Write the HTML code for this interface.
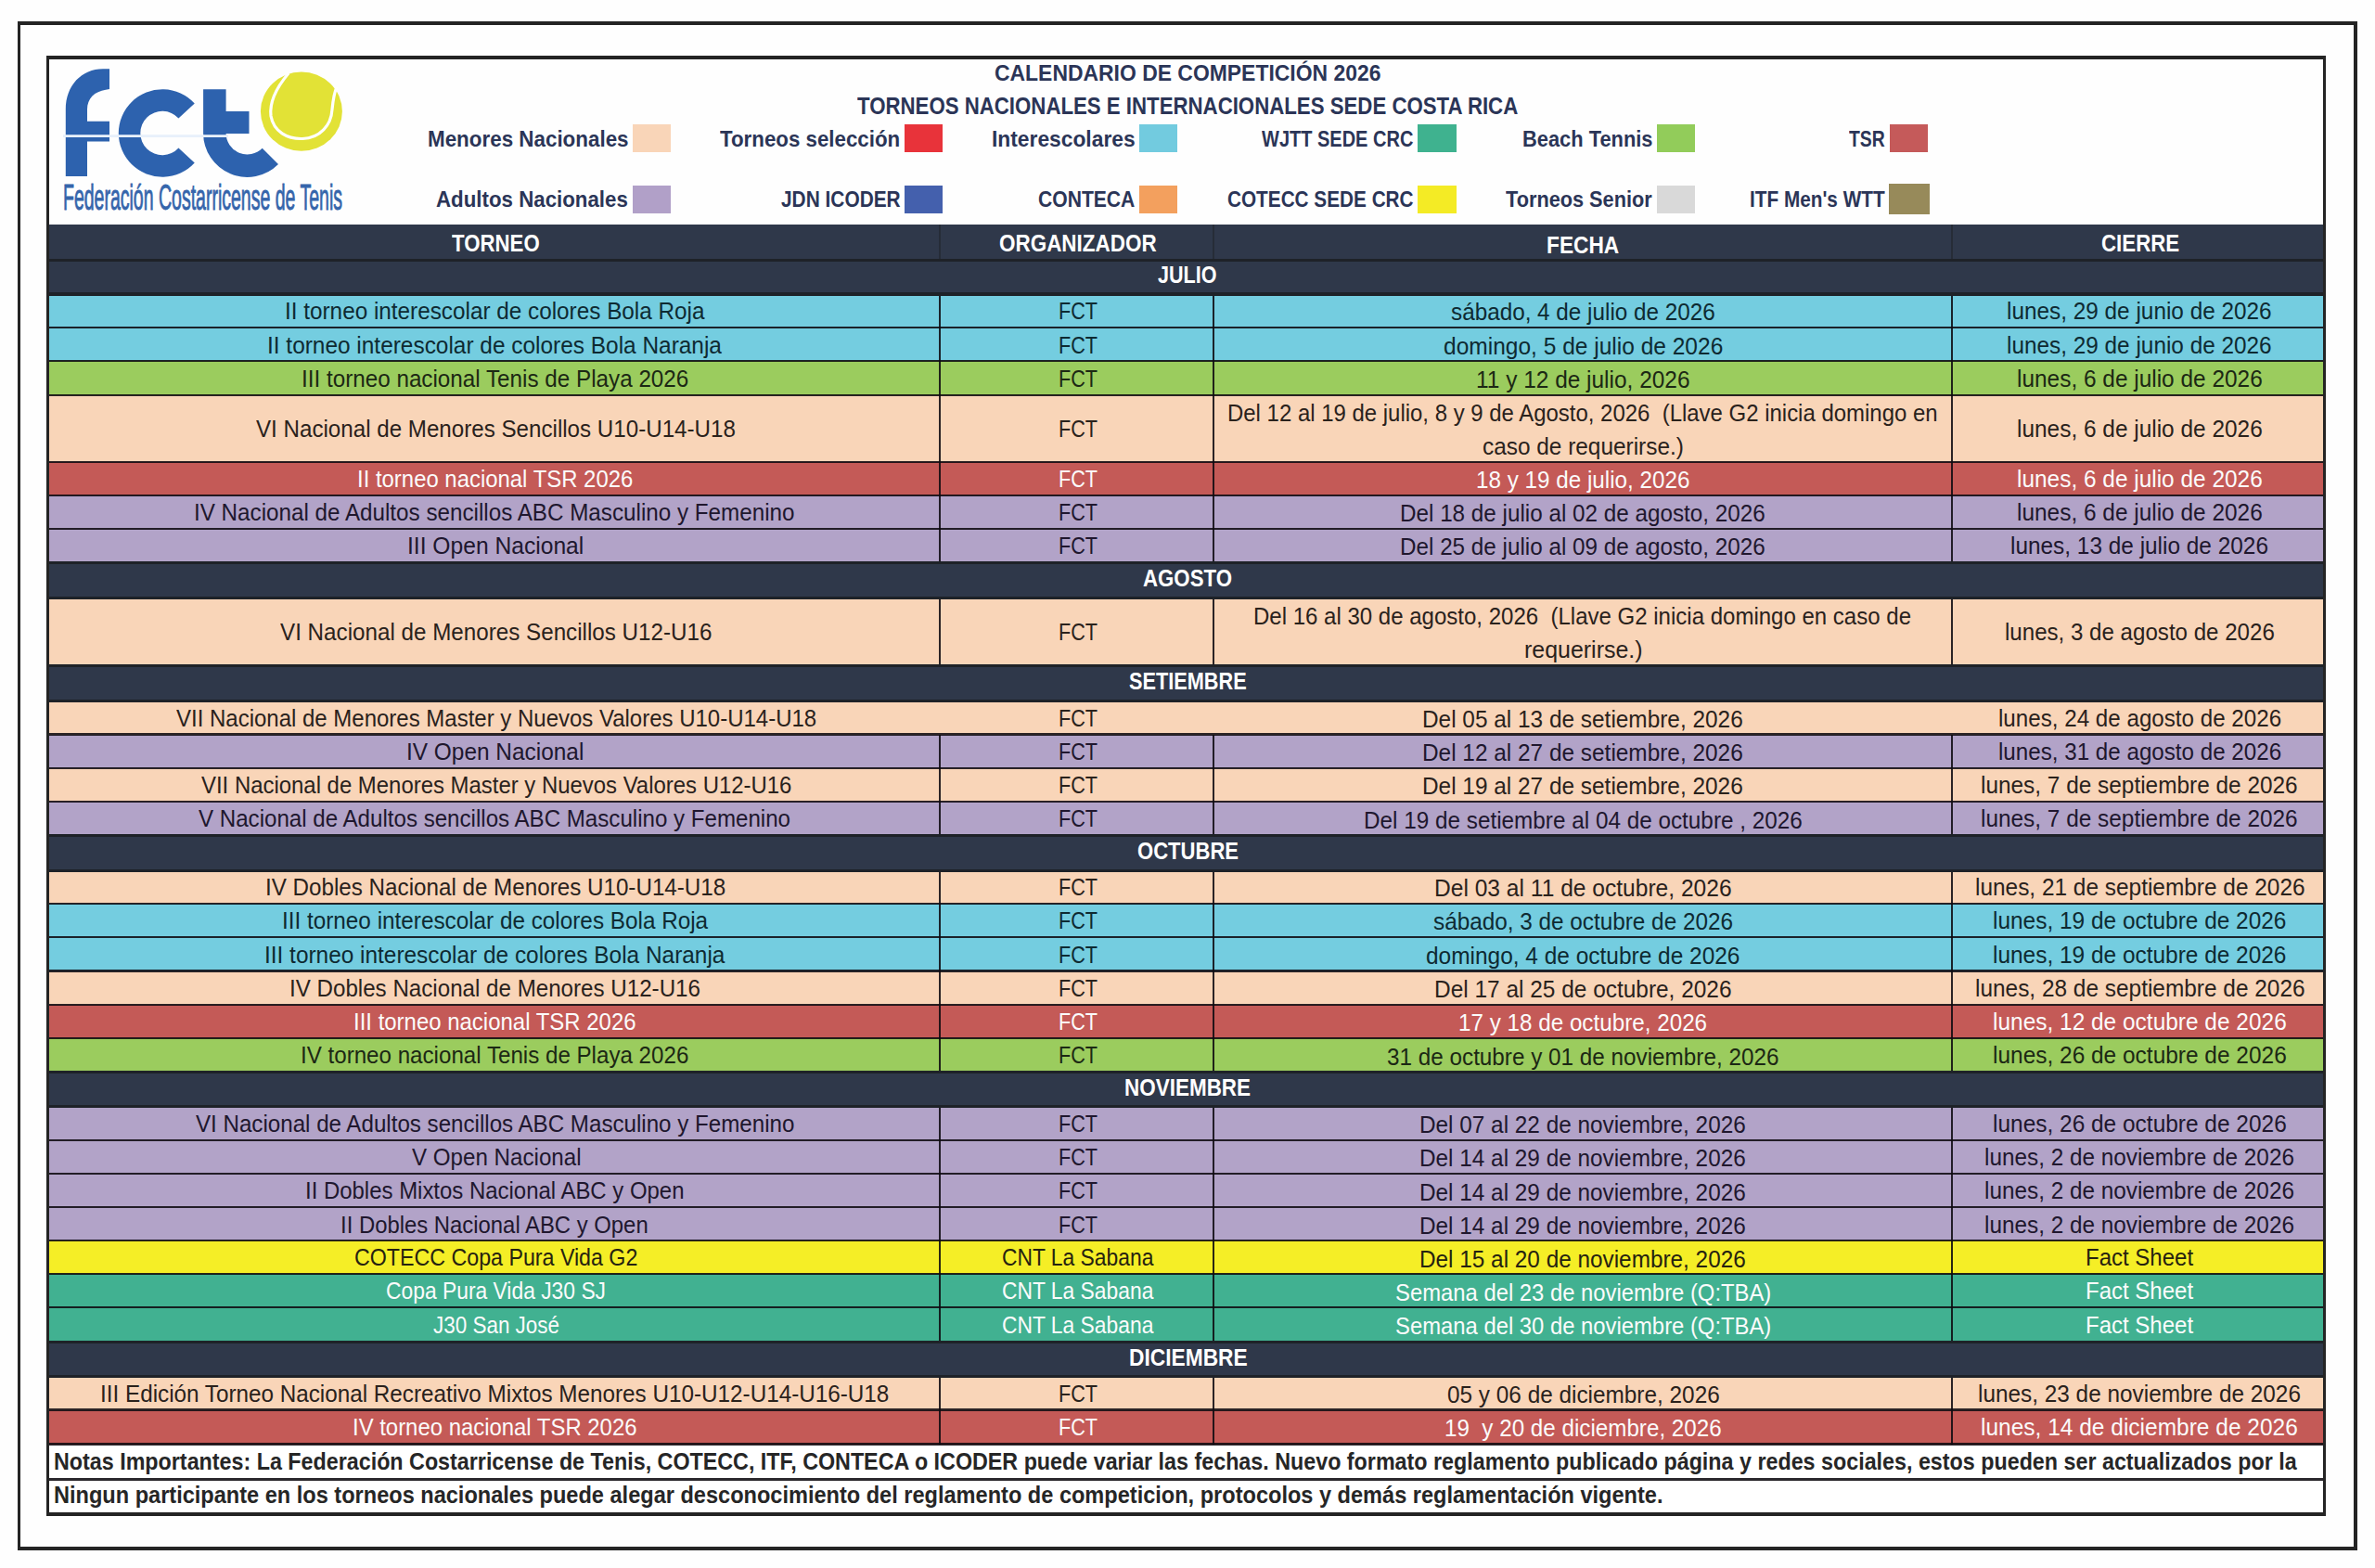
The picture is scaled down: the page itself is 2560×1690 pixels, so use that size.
<!DOCTYPE html>
<html><head><meta charset="utf-8"><style>
html,body{margin:0;padding:0;width:2560px;height:1690px;overflow:hidden;background:#fefefe}
body{position:relative;font-family:'Liberation Sans', sans-serif}
div{white-space:pre;transform-origin:0 0}
</style></head><body>
<div style="position:absolute;left:0px;top:0px;width:2560px;height:1690px;background:#fefefe;"></div>
<div style="position:absolute;left:19px;top:23px;width:2521px;height:3.5px;background:#242424;"></div>
<div style="position:absolute;left:19px;top:1667px;width:2521px;height:3.5px;background:#242424;"></div>
<div style="position:absolute;left:19px;top:23px;width:3px;height:1647.5px;background:#242424;"></div>
<div style="position:absolute;left:2537px;top:23px;width:3.5px;height:1647.5px;background:#242424;"></div>
<div style="position:absolute;left:50px;top:242px;width:2457px;height:38.5px;background:#2f384a;"></div>
<div style="position:absolute;left:50px;top:280.5px;width:2457px;height:36.10000000000002px;background:#2f384a;"></div>
<div style="position:absolute;left:50px;top:316.6px;width:2457px;height:36.799999999999955px;background:#74cde0;"></div>
<div style="position:absolute;left:50px;top:353.4px;width:2457px;height:35.900000000000034px;background:#74cde0;"></div>
<div style="position:absolute;left:50px;top:389.3px;width:2457px;height:36.30000000000001px;background:#9bcc5e;"></div>
<div style="position:absolute;left:50px;top:425.6px;width:2457px;height:72.39999999999998px;background:#f9d5b8;"></div>
<div style="position:absolute;left:50px;top:498px;width:2457px;height:36px;background:#c45a57;"></div>
<div style="position:absolute;left:50px;top:534px;width:2457px;height:36px;background:#b2a3c8;"></div>
<div style="position:absolute;left:50px;top:570px;width:2457px;height:36px;background:#b2a3c8;"></div>
<div style="position:absolute;left:50px;top:606px;width:2457px;height:38.5px;background:#2f384a;"></div>
<div style="position:absolute;left:50px;top:644.5px;width:2457px;height:72.5px;background:#f9d5b8;"></div>
<div style="position:absolute;left:50px;top:717px;width:2457px;height:38px;background:#2f384a;"></div>
<div style="position:absolute;left:50px;top:755px;width:2457px;height:36.5px;background:#f9d5b8;"></div>
<div style="position:absolute;left:50px;top:791.5px;width:2457px;height:36.10000000000002px;background:#b2a3c8;"></div>
<div style="position:absolute;left:50px;top:827.6px;width:2457px;height:36.39999999999998px;background:#f9d5b8;"></div>
<div style="position:absolute;left:50px;top:864px;width:2457px;height:36.299999999999955px;background:#b2a3c8;"></div>
<div style="position:absolute;left:50px;top:900.3px;width:2457px;height:37.700000000000045px;background:#2f384a;"></div>
<div style="position:absolute;left:50px;top:938px;width:2457px;height:36px;background:#f9d5b8;"></div>
<div style="position:absolute;left:50px;top:974px;width:2457px;height:36px;background:#74cde0;"></div>
<div style="position:absolute;left:50px;top:1010px;width:2457px;height:36.5px;background:#74cde0;"></div>
<div style="position:absolute;left:50px;top:1046.5px;width:2457px;height:36.200000000000045px;background:#f9d5b8;"></div>
<div style="position:absolute;left:50px;top:1082.7px;width:2457px;height:36.09999999999991px;background:#c45a57;"></div>
<div style="position:absolute;left:50px;top:1118.8px;width:2457px;height:36.700000000000045px;background:#9bcc5e;"></div>
<div style="position:absolute;left:50px;top:1155.5px;width:2457px;height:36.799999999999955px;background:#2f384a;"></div>
<div style="position:absolute;left:50px;top:1192.3px;width:2457px;height:36.299999999999955px;background:#b2a3c8;"></div>
<div style="position:absolute;left:50px;top:1228.6px;width:2457px;height:36.40000000000009px;background:#b2a3c8;"></div>
<div style="position:absolute;left:50px;top:1265px;width:2457px;height:36.40000000000009px;background:#b2a3c8;"></div>
<div style="position:absolute;left:50px;top:1301.4px;width:2457px;height:35.899999999999864px;background:#b2a3c8;"></div>
<div style="position:absolute;left:50px;top:1337.3px;width:2457px;height:35.700000000000045px;background:#f5ee26;"></div>
<div style="position:absolute;left:50px;top:1373px;width:2457px;height:36.299999999999955px;background:#41b191;"></div>
<div style="position:absolute;left:50px;top:1409.3px;width:2457px;height:36.700000000000045px;background:#41b191;"></div>
<div style="position:absolute;left:50px;top:1446px;width:2457px;height:37px;background:#2f384a;"></div>
<div style="position:absolute;left:50px;top:1483px;width:2457px;height:36.5px;background:#f9d5b8;"></div>
<div style="position:absolute;left:50px;top:1519.5px;width:2457px;height:37.0px;background:#c45a57;"></div>
<div style="position:absolute;left:50px;top:1556.5px;width:2457px;height:38.0px;background:#ffffff;"></div>
<div style="position:absolute;left:50px;top:1594.5px;width:2457px;height:37.0px;background:#ffffff;"></div>
<div style="position:absolute;left:1012px;top:242px;width:2.2000000000000455px;height:38.5px;background:#262c37;"></div>
<div style="position:absolute;left:1307px;top:242px;width:2.2000000000000455px;height:38.5px;background:#262c37;"></div>
<div style="position:absolute;left:2102.5px;top:242px;width:2.199999999999818px;height:38.5px;background:#262c37;"></div>
<div style="position:absolute;left:1012px;top:316.6px;width:2.2000000000000455px;height:36.799999999999955px;background:rgba(14,10,16,0.88);"></div>
<div style="position:absolute;left:1307px;top:316.6px;width:2.2000000000000455px;height:36.799999999999955px;background:rgba(14,10,16,0.88);"></div>
<div style="position:absolute;left:2102.5px;top:316.6px;width:2.199999999999818px;height:36.799999999999955px;background:rgba(14,10,16,0.88);"></div>
<div style="position:absolute;left:1012px;top:353.4px;width:2.2000000000000455px;height:35.900000000000034px;background:rgba(14,10,16,0.88);"></div>
<div style="position:absolute;left:1307px;top:353.4px;width:2.2000000000000455px;height:35.900000000000034px;background:rgba(14,10,16,0.88);"></div>
<div style="position:absolute;left:2102.5px;top:353.4px;width:2.199999999999818px;height:35.900000000000034px;background:rgba(14,10,16,0.88);"></div>
<div style="position:absolute;left:1012px;top:389.3px;width:2.2000000000000455px;height:36.30000000000001px;background:rgba(14,10,16,0.88);"></div>
<div style="position:absolute;left:1307px;top:389.3px;width:2.2000000000000455px;height:36.30000000000001px;background:rgba(14,10,16,0.88);"></div>
<div style="position:absolute;left:2102.5px;top:389.3px;width:2.199999999999818px;height:36.30000000000001px;background:rgba(14,10,16,0.88);"></div>
<div style="position:absolute;left:1012px;top:425.6px;width:2.2000000000000455px;height:72.39999999999998px;background:rgba(14,10,16,0.88);"></div>
<div style="position:absolute;left:1307px;top:425.6px;width:2.2000000000000455px;height:72.39999999999998px;background:rgba(14,10,16,0.88);"></div>
<div style="position:absolute;left:2102.5px;top:425.6px;width:2.199999999999818px;height:72.39999999999998px;background:rgba(14,10,16,0.88);"></div>
<div style="position:absolute;left:1012px;top:498px;width:2.2000000000000455px;height:36px;background:rgba(14,10,16,0.88);"></div>
<div style="position:absolute;left:1307px;top:498px;width:2.2000000000000455px;height:36px;background:rgba(14,10,16,0.88);"></div>
<div style="position:absolute;left:2102.5px;top:498px;width:2.199999999999818px;height:36px;background:rgba(14,10,16,0.88);"></div>
<div style="position:absolute;left:1012px;top:534px;width:2.2000000000000455px;height:36px;background:rgba(14,10,16,0.88);"></div>
<div style="position:absolute;left:1307px;top:534px;width:2.2000000000000455px;height:36px;background:rgba(14,10,16,0.88);"></div>
<div style="position:absolute;left:2102.5px;top:534px;width:2.199999999999818px;height:36px;background:rgba(14,10,16,0.88);"></div>
<div style="position:absolute;left:1012px;top:570px;width:2.2000000000000455px;height:36px;background:rgba(14,10,16,0.88);"></div>
<div style="position:absolute;left:1307px;top:570px;width:2.2000000000000455px;height:36px;background:rgba(14,10,16,0.88);"></div>
<div style="position:absolute;left:2102.5px;top:570px;width:2.199999999999818px;height:36px;background:rgba(14,10,16,0.88);"></div>
<div style="position:absolute;left:1012px;top:644.5px;width:2.2000000000000455px;height:72.5px;background:rgba(14,10,16,0.88);"></div>
<div style="position:absolute;left:1307px;top:644.5px;width:2.2000000000000455px;height:72.5px;background:rgba(14,10,16,0.88);"></div>
<div style="position:absolute;left:2102.5px;top:644.5px;width:2.199999999999818px;height:72.5px;background:rgba(14,10,16,0.88);"></div>
<div style="position:absolute;left:1012px;top:791.5px;width:2.2000000000000455px;height:36.10000000000002px;background:rgba(14,10,16,0.88);"></div>
<div style="position:absolute;left:1307px;top:791.5px;width:2.2000000000000455px;height:36.10000000000002px;background:rgba(14,10,16,0.88);"></div>
<div style="position:absolute;left:2102.5px;top:791.5px;width:2.199999999999818px;height:36.10000000000002px;background:rgba(14,10,16,0.88);"></div>
<div style="position:absolute;left:1012px;top:827.6px;width:2.2000000000000455px;height:36.39999999999998px;background:rgba(14,10,16,0.88);"></div>
<div style="position:absolute;left:1307px;top:827.6px;width:2.2000000000000455px;height:36.39999999999998px;background:rgba(14,10,16,0.88);"></div>
<div style="position:absolute;left:2102.5px;top:827.6px;width:2.199999999999818px;height:36.39999999999998px;background:rgba(14,10,16,0.88);"></div>
<div style="position:absolute;left:1012px;top:864px;width:2.2000000000000455px;height:36.299999999999955px;background:rgba(14,10,16,0.88);"></div>
<div style="position:absolute;left:1307px;top:864px;width:2.2000000000000455px;height:36.299999999999955px;background:rgba(14,10,16,0.88);"></div>
<div style="position:absolute;left:2102.5px;top:864px;width:2.199999999999818px;height:36.299999999999955px;background:rgba(14,10,16,0.88);"></div>
<div style="position:absolute;left:1012px;top:938px;width:2.2000000000000455px;height:36px;background:rgba(14,10,16,0.88);"></div>
<div style="position:absolute;left:1307px;top:938px;width:2.2000000000000455px;height:36px;background:rgba(14,10,16,0.88);"></div>
<div style="position:absolute;left:2102.5px;top:938px;width:2.199999999999818px;height:36px;background:rgba(14,10,16,0.88);"></div>
<div style="position:absolute;left:1012px;top:974px;width:2.2000000000000455px;height:36px;background:rgba(14,10,16,0.88);"></div>
<div style="position:absolute;left:1307px;top:974px;width:2.2000000000000455px;height:36px;background:rgba(14,10,16,0.88);"></div>
<div style="position:absolute;left:2102.5px;top:974px;width:2.199999999999818px;height:36px;background:rgba(14,10,16,0.88);"></div>
<div style="position:absolute;left:1012px;top:1010px;width:2.2000000000000455px;height:36.5px;background:rgba(14,10,16,0.88);"></div>
<div style="position:absolute;left:1307px;top:1010px;width:2.2000000000000455px;height:36.5px;background:rgba(14,10,16,0.88);"></div>
<div style="position:absolute;left:2102.5px;top:1010px;width:2.199999999999818px;height:36.5px;background:rgba(14,10,16,0.88);"></div>
<div style="position:absolute;left:1012px;top:1046.5px;width:2.2000000000000455px;height:36.200000000000045px;background:rgba(14,10,16,0.88);"></div>
<div style="position:absolute;left:1307px;top:1046.5px;width:2.2000000000000455px;height:36.200000000000045px;background:rgba(14,10,16,0.88);"></div>
<div style="position:absolute;left:2102.5px;top:1046.5px;width:2.199999999999818px;height:36.200000000000045px;background:rgba(14,10,16,0.88);"></div>
<div style="position:absolute;left:1012px;top:1082.7px;width:2.2000000000000455px;height:36.09999999999991px;background:rgba(14,10,16,0.88);"></div>
<div style="position:absolute;left:1307px;top:1082.7px;width:2.2000000000000455px;height:36.09999999999991px;background:rgba(14,10,16,0.88);"></div>
<div style="position:absolute;left:2102.5px;top:1082.7px;width:2.199999999999818px;height:36.09999999999991px;background:rgba(14,10,16,0.88);"></div>
<div style="position:absolute;left:1012px;top:1118.8px;width:2.2000000000000455px;height:36.700000000000045px;background:rgba(14,10,16,0.88);"></div>
<div style="position:absolute;left:1307px;top:1118.8px;width:2.2000000000000455px;height:36.700000000000045px;background:rgba(14,10,16,0.88);"></div>
<div style="position:absolute;left:2102.5px;top:1118.8px;width:2.199999999999818px;height:36.700000000000045px;background:rgba(14,10,16,0.88);"></div>
<div style="position:absolute;left:1012px;top:1192.3px;width:2.2000000000000455px;height:36.299999999999955px;background:rgba(14,10,16,0.88);"></div>
<div style="position:absolute;left:1307px;top:1192.3px;width:2.2000000000000455px;height:36.299999999999955px;background:rgba(14,10,16,0.88);"></div>
<div style="position:absolute;left:2102.5px;top:1192.3px;width:2.199999999999818px;height:36.299999999999955px;background:rgba(14,10,16,0.88);"></div>
<div style="position:absolute;left:1012px;top:1228.6px;width:2.2000000000000455px;height:36.40000000000009px;background:rgba(14,10,16,0.88);"></div>
<div style="position:absolute;left:1307px;top:1228.6px;width:2.2000000000000455px;height:36.40000000000009px;background:rgba(14,10,16,0.88);"></div>
<div style="position:absolute;left:2102.5px;top:1228.6px;width:2.199999999999818px;height:36.40000000000009px;background:rgba(14,10,16,0.88);"></div>
<div style="position:absolute;left:1012px;top:1265px;width:2.2000000000000455px;height:36.40000000000009px;background:rgba(14,10,16,0.88);"></div>
<div style="position:absolute;left:1307px;top:1265px;width:2.2000000000000455px;height:36.40000000000009px;background:rgba(14,10,16,0.88);"></div>
<div style="position:absolute;left:2102.5px;top:1265px;width:2.199999999999818px;height:36.40000000000009px;background:rgba(14,10,16,0.88);"></div>
<div style="position:absolute;left:1012px;top:1301.4px;width:2.2000000000000455px;height:35.899999999999864px;background:rgba(14,10,16,0.88);"></div>
<div style="position:absolute;left:1307px;top:1301.4px;width:2.2000000000000455px;height:35.899999999999864px;background:rgba(14,10,16,0.88);"></div>
<div style="position:absolute;left:2102.5px;top:1301.4px;width:2.199999999999818px;height:35.899999999999864px;background:rgba(14,10,16,0.88);"></div>
<div style="position:absolute;left:1012px;top:1337.3px;width:2.2000000000000455px;height:35.700000000000045px;background:rgba(14,10,16,0.88);"></div>
<div style="position:absolute;left:1307px;top:1337.3px;width:2.2000000000000455px;height:35.700000000000045px;background:rgba(14,10,16,0.88);"></div>
<div style="position:absolute;left:2102.5px;top:1337.3px;width:2.199999999999818px;height:35.700000000000045px;background:rgba(14,10,16,0.88);"></div>
<div style="position:absolute;left:1012px;top:1373px;width:2.2000000000000455px;height:36.299999999999955px;background:rgba(14,10,16,0.88);"></div>
<div style="position:absolute;left:1307px;top:1373px;width:2.2000000000000455px;height:36.299999999999955px;background:rgba(14,10,16,0.88);"></div>
<div style="position:absolute;left:2102.5px;top:1373px;width:2.199999999999818px;height:36.299999999999955px;background:rgba(14,10,16,0.88);"></div>
<div style="position:absolute;left:1012px;top:1409.3px;width:2.2000000000000455px;height:36.700000000000045px;background:rgba(14,10,16,0.88);"></div>
<div style="position:absolute;left:1307px;top:1409.3px;width:2.2000000000000455px;height:36.700000000000045px;background:rgba(14,10,16,0.88);"></div>
<div style="position:absolute;left:2102.5px;top:1409.3px;width:2.199999999999818px;height:36.700000000000045px;background:rgba(14,10,16,0.88);"></div>
<div style="position:absolute;left:1012px;top:1483px;width:2.2000000000000455px;height:36.5px;background:rgba(14,10,16,0.88);"></div>
<div style="position:absolute;left:1307px;top:1483px;width:2.2000000000000455px;height:36.5px;background:rgba(14,10,16,0.88);"></div>
<div style="position:absolute;left:2102.5px;top:1483px;width:2.199999999999818px;height:36.5px;background:rgba(14,10,16,0.88);"></div>
<div style="position:absolute;left:1012px;top:1519.5px;width:2.2000000000000455px;height:37.0px;background:rgba(14,10,16,0.88);"></div>
<div style="position:absolute;left:1307px;top:1519.5px;width:2.2000000000000455px;height:37.0px;background:rgba(14,10,16,0.88);"></div>
<div style="position:absolute;left:2102.5px;top:1519.5px;width:2.199999999999818px;height:37.0px;background:rgba(14,10,16,0.88);"></div>
<div style="position:absolute;left:50px;top:279.0px;width:2457px;height:3.0px;background:#1e2228;"></div>
<div style="position:absolute;left:50px;top:314.6px;width:2457px;height:4.0px;background:#1e2228;"></div>
<div style="position:absolute;left:50px;top:352.29999999999995px;width:2457px;height:2.2000000000000455px;background:rgba(14,10,16,0.88);"></div>
<div style="position:absolute;left:50px;top:388.2px;width:2457px;height:2.2000000000000455px;background:rgba(14,10,16,0.88);"></div>
<div style="position:absolute;left:50px;top:424.5px;width:2457px;height:2.2000000000000455px;background:rgba(14,10,16,0.88);"></div>
<div style="position:absolute;left:50px;top:496.9px;width:2457px;height:2.2000000000000455px;background:rgba(14,10,16,0.88);"></div>
<div style="position:absolute;left:50px;top:532.9px;width:2457px;height:2.2000000000000455px;background:rgba(14,10,16,0.88);"></div>
<div style="position:absolute;left:50px;top:568.9px;width:2457px;height:2.2000000000000455px;background:rgba(14,10,16,0.88);"></div>
<div style="position:absolute;left:50px;top:604.5px;width:2457px;height:3.0px;background:#1e2228;"></div>
<div style="position:absolute;left:50px;top:643.0px;width:2457px;height:3.0px;background:#1e2228;"></div>
<div style="position:absolute;left:50px;top:715.5px;width:2457px;height:3.0px;background:#1e2228;"></div>
<div style="position:absolute;left:50px;top:753.5px;width:2457px;height:3.0px;background:#1e2228;"></div>
<div style="position:absolute;left:50px;top:790.4px;width:2457px;height:2.2000000000000455px;background:rgba(14,10,16,0.88);"></div>
<div style="position:absolute;left:50px;top:826.5px;width:2457px;height:2.2000000000000455px;background:rgba(14,10,16,0.88);"></div>
<div style="position:absolute;left:50px;top:862.9px;width:2457px;height:2.2000000000000455px;background:rgba(14,10,16,0.88);"></div>
<div style="position:absolute;left:50px;top:898.8px;width:2457px;height:3.0px;background:#1e2228;"></div>
<div style="position:absolute;left:50px;top:936.5px;width:2457px;height:3.0px;background:#1e2228;"></div>
<div style="position:absolute;left:50px;top:972.9px;width:2457px;height:2.2000000000000455px;background:rgba(14,10,16,0.88);"></div>
<div style="position:absolute;left:50px;top:1008.9px;width:2457px;height:2.2000000000000455px;background:rgba(14,10,16,0.88);"></div>
<div style="position:absolute;left:50px;top:1045.4px;width:2457px;height:2.199999999999818px;background:rgba(14,10,16,0.88);"></div>
<div style="position:absolute;left:50px;top:1081.6000000000001px;width:2457px;height:2.199999999999818px;background:rgba(14,10,16,0.88);"></div>
<div style="position:absolute;left:50px;top:1117.7px;width:2457px;height:2.199999999999818px;background:rgba(14,10,16,0.88);"></div>
<div style="position:absolute;left:50px;top:1154.0px;width:2457px;height:3.0px;background:#1e2228;"></div>
<div style="position:absolute;left:50px;top:1190.8px;width:2457px;height:3.0px;background:#1e2228;"></div>
<div style="position:absolute;left:50px;top:1227.5px;width:2457px;height:2.199999999999818px;background:rgba(14,10,16,0.88);"></div>
<div style="position:absolute;left:50px;top:1263.9px;width:2457px;height:2.199999999999818px;background:rgba(14,10,16,0.88);"></div>
<div style="position:absolute;left:50px;top:1300.3000000000002px;width:2457px;height:2.199999999999818px;background:rgba(14,10,16,0.88);"></div>
<div style="position:absolute;left:50px;top:1336.2px;width:2457px;height:2.199999999999818px;background:rgba(14,10,16,0.88);"></div>
<div style="position:absolute;left:50px;top:1371.9px;width:2457px;height:2.199999999999818px;background:rgba(14,10,16,0.88);"></div>
<div style="position:absolute;left:50px;top:1408.2px;width:2457px;height:2.199999999999818px;background:rgba(14,10,16,0.88);"></div>
<div style="position:absolute;left:50px;top:1444.5px;width:2457px;height:3.0px;background:#1e2228;"></div>
<div style="position:absolute;left:50px;top:1481.5px;width:2457px;height:3.0px;background:#1e2228;"></div>
<div style="position:absolute;left:50px;top:1518.4px;width:2457px;height:2.199999999999818px;background:rgba(14,10,16,0.88);"></div>
<div style="position:absolute;left:50px;top:1555.0px;width:2457px;height:3.0px;background:rgba(14,10,16,0.88);"></div>
<div style="position:absolute;left:50px;top:1593.0px;width:2457px;height:3.0px;background:rgba(14,10,16,0.88);"></div>
<div style="position:absolute;left:50px;top:60px;width:2457px;height:3.5px;background:#242424;"></div>
<div style="position:absolute;left:50px;top:1630px;width:2457px;height:3.5px;background:#242424;"></div>
<div style="position:absolute;left:50px;top:60px;width:3px;height:1573.5px;background:#242424;"></div>
<div style="position:absolute;left:2503.8px;top:60px;width:3.199999999999818px;height:1573.5px;background:#242424;"></div>
<div style="position:absolute;left:681.5px;top:134.4px;width:41.200000000000045px;height:29.900000000000006px;background:#f9d5b8;"></div>
<div style="position:absolute;left:975.3px;top:134.4px;width:40.700000000000045px;height:29.900000000000006px;background:#e8333a;"></div>
<div style="position:absolute;left:1228.4px;top:134.4px;width:40.59999999999991px;height:29.900000000000006px;background:#72cbdf;"></div>
<div style="position:absolute;left:1528px;top:134.4px;width:41.700000000000045px;height:29.900000000000006px;background:#3fb28f;"></div>
<div style="position:absolute;left:1785.7px;top:134.4px;width:41.299999999999955px;height:29.900000000000006px;background:#92cc5a;"></div>
<div style="position:absolute;left:2037px;top:134.4px;width:41.30000000000018px;height:29.900000000000006px;background:#c55a5a;"></div>
<div style="position:absolute;left:681.5px;top:199.5px;width:41.200000000000045px;height:30.0px;background:#b1a0c8;"></div>
<div style="position:absolute;left:975.3px;top:199.5px;width:40.700000000000045px;height:30.0px;background:#4460ad;"></div>
<div style="position:absolute;left:1228.4px;top:199.5px;width:40.59999999999991px;height:30.0px;background:#f3a05e;"></div>
<div style="position:absolute;left:1528px;top:199.5px;width:41.700000000000045px;height:30.0px;background:#f4eb25;"></div>
<div style="position:absolute;left:1785.7px;top:199.5px;width:41.299999999999955px;height:30.0px;background:#d9d9d9;"></div>
<div style="position:absolute;left:2035.6px;top:198px;width:44.80000000000018px;height:33.30000000000001px;background:#978a5a;"></div>
<svg style="position:absolute;left:0;top:0" width="400" height="240" viewBox="0 0 400 240">
<g fill="#2d62ae">
<path d="M70.8,190 L70.8,118 C70.8,92 88,74.3 111,74.3 L118,74.3 L118,96 L114,96.7 C102,98.5 94,106 94,118 L94,130.7 L118,130.7 L118,152.6 L94,152.6 L94,190 Z"/>
<path d="M209.75,111.55 A47.2,47.2 0 1 0 209.75,175.45 L192.45,159.54 A23.7,23.7 0 1 1 192.45,127.46 Z"/>
<path d="M219.1,96.3 L243.6,96.3 L243.6,119.9 L268.5,119.9 L268.5,144 L243.6,144 L243.6,143.5 A22.9,22.9 0 0 0 282.7,159.7 L300,177 A47.4,47.4 0 0 1 219.1,143.5 Z"/>
</g>
<rect x="68" y="145.2" width="178" height="2.8" fill="#e8f0fb"/><rect x="246" y="145" width="24" height="2" fill="#ffffff"/>
<ellipse cx="324.9" cy="120.1" rx="44" ry="42.7" fill="#e2e236"/>
<path d="M311,79 C300,92 290,108 292,125 C295,142 310,150 326,149.5 C345,149 357,135 358,118 C359,108 360,100 363,94" fill="none" stroke="#ffffff" stroke-width="3.2"/>
</svg>
<div style="position:absolute;left:486.78px;top:249.95px;font-size:25px;line-height:25px;font-weight:bold;color:#ffffff;transform:scaleX(0.8889);">TORNEO</div>
<div style="position:absolute;left:1077.10px;top:249.95px;font-size:25px;line-height:25px;font-weight:bold;color:#ffffff;transform:scaleX(0.8983);">ORGANIZADOR</div>
<div style="position:absolute;left:1666.94px;top:251.55px;font-size:25px;line-height:25px;font-weight:bold;color:#ffffff;transform:scaleX(0.9089);">FECHA</div>
<div style="position:absolute;left:2264.51px;top:249.95px;font-size:25px;line-height:25px;font-weight:bold;color:#ffffff;transform:scaleX(0.8916);">CIERRE</div>
<div style="position:absolute;left:1248.38px;top:283.77px;font-size:25.8px;line-height:25.8px;font-weight:bold;color:#ffffff;transform:scaleX(0.8349);">JULIO</div>
<div style="position:absolute;left:306.91px;top:323.25px;font-size:25px;line-height:25px;color:#0e2a32;transform:scaleX(0.9720);">II torneo interescolar de colores Bola Roja</div>
<div style="position:absolute;left:1141.22px;top:323.25px;font-size:25px;line-height:25px;color:#0e2a32;transform:scaleX(0.8660);">FCT</div>
<div style="position:absolute;left:1564.31px;top:324.45px;font-size:25px;line-height:25px;color:#0e2a32;transform:scaleX(0.9709);">sábado, 4 de julio de 2026</div>
<div style="position:absolute;left:2163.49px;top:323.25px;font-size:25px;line-height:25px;color:#0e2a32;transform:scaleX(0.9739);">lunes, 29 de junio de 2026</div>
<div style="position:absolute;left:288.20px;top:359.60px;font-size:25px;line-height:25px;color:#0e2a32;transform:scaleX(0.9766);">II torneo interescolar de colores Bola Naranja</div>
<div style="position:absolute;left:1141.22px;top:359.60px;font-size:25px;line-height:25px;color:#0e2a32;transform:scaleX(0.8660);">FCT</div>
<div style="position:absolute;left:1555.82px;top:360.80px;font-size:25px;line-height:25px;color:#0e2a32;transform:scaleX(0.9808);">domingo, 5 de julio de 2026</div>
<div style="position:absolute;left:2163.49px;top:359.60px;font-size:25px;line-height:25px;color:#0e2a32;transform:scaleX(0.9739);">lunes, 29 de junio de 2026</div>
<div style="position:absolute;left:324.77px;top:395.70px;font-size:25px;line-height:25px;color:#1c2814;transform:scaleX(0.9696);">III torneo nacional Tenis de Playa 2026</div>
<div style="position:absolute;left:1141.22px;top:395.70px;font-size:25px;line-height:25px;color:#1c2814;transform:scaleX(0.8660);">FCT</div>
<div style="position:absolute;left:1590.84px;top:396.90px;font-size:25px;line-height:25px;color:#1c2814;transform:scaleX(0.9774);">11 y 12 de julio, 2026</div>
<div style="position:absolute;left:2173.93px;top:395.70px;font-size:25px;line-height:25px;color:#1c2814;transform:scaleX(0.9768);">lunes, 6 de julio de 2026</div>
<div style="position:absolute;left:276.30px;top:450.05px;font-size:25px;line-height:25px;color:#2a221c;transform:scaleX(0.9661);">VI Nacional de Menores Sencillos U10-U14-U18</div>
<div style="position:absolute;left:1141.22px;top:450.05px;font-size:25px;line-height:25px;color:#2a221c;transform:scaleX(0.8660);">FCT</div>
<div style="position:absolute;left:1322.78px;top:432.55px;font-size:25px;line-height:25px;color:#2a221c;transform:scaleX(0.9580);">Del 12 al 19 de julio, 8 y 9 de Agosto, 2026  (Llave G2 inicia domingo en</div>
<div style="position:absolute;left:1598.22px;top:469.35px;font-size:25px;line-height:25px;color:#2a221c;transform:scaleX(0.9754);">caso de requerirse.)</div>
<div style="position:absolute;left:2173.93px;top:450.05px;font-size:25px;line-height:25px;color:#2a221c;transform:scaleX(0.9768);">lunes, 6 de julio de 2026</div>
<div style="position:absolute;left:384.80px;top:504.25px;font-size:25px;line-height:25px;color:#fbfbfb;transform:scaleX(0.9564);">II torneo nacional TSR 2026</div>
<div style="position:absolute;left:1141.22px;top:504.25px;font-size:25px;line-height:25px;color:#fbfbfb;transform:scaleX(0.8660);">FCT</div>
<div style="position:absolute;left:1590.85px;top:505.45px;font-size:25px;line-height:25px;color:#fbfbfb;transform:scaleX(0.9697);">18 y 19 de julio, 2026</div>
<div style="position:absolute;left:2173.93px;top:504.25px;font-size:25px;line-height:25px;color:#fbfbfb;transform:scaleX(0.9768);">lunes, 6 de julio de 2026</div>
<div style="position:absolute;left:208.57px;top:540.25px;font-size:25px;line-height:25px;color:#20172e;transform:scaleX(0.9687);">IV Nacional de Adultos sencillos ABC Masculino y Femenino</div>
<div style="position:absolute;left:1141.22px;top:540.25px;font-size:25px;line-height:25px;color:#20172e;transform:scaleX(0.8660);">FCT</div>
<div style="position:absolute;left:1509.11px;top:541.45px;font-size:25px;line-height:25px;color:#20172e;transform:scaleX(0.9701);">Del 18 de julio al 02 de agosto, 2026</div>
<div style="position:absolute;left:2173.93px;top:540.25px;font-size:25px;line-height:25px;color:#20172e;transform:scaleX(0.9768);">lunes, 6 de julio de 2026</div>
<div style="position:absolute;left:438.83px;top:576.25px;font-size:25px;line-height:25px;color:#20172e;transform:scaleX(0.9849);">III Open Nacional</div>
<div style="position:absolute;left:1141.22px;top:576.25px;font-size:25px;line-height:25px;color:#20172e;transform:scaleX(0.8660);">FCT</div>
<div style="position:absolute;left:1509.11px;top:577.45px;font-size:25px;line-height:25px;color:#20172e;transform:scaleX(0.9701);">Del 25 de julio al 09 de agosto, 2026</div>
<div style="position:absolute;left:2167.34px;top:576.25px;font-size:25px;line-height:25px;color:#20172e;transform:scaleX(0.9754);">lunes, 13 de julio de 2026</div>
<div style="position:absolute;left:1231.86px;top:611.27px;font-size:25.8px;line-height:25.8px;font-weight:bold;color:#ffffff;transform:scaleX(0.8621);">AGOSTO</div>
<div style="position:absolute;left:302.00px;top:669.00px;font-size:25px;line-height:25px;color:#2a221c;transform:scaleX(0.9681);">VI Nacional de Menores Sencillos U12-U16</div>
<div style="position:absolute;left:1141.22px;top:669.00px;font-size:25px;line-height:25px;color:#2a221c;transform:scaleX(0.8660);">FCT</div>
<div style="position:absolute;left:1351.48px;top:651.50px;font-size:25px;line-height:25px;color:#2a221c;transform:scaleX(0.9607);">Del 16 al 30 de agosto, 2026  (Llave G2 inicia domingo en caso de</div>
<div style="position:absolute;left:1642.65px;top:688.30px;font-size:25px;line-height:25px;color:#2a221c;transform:scaleX(0.9976);">requerirse.)</div>
<div style="position:absolute;left:2160.90px;top:669.00px;font-size:25px;line-height:25px;color:#2a221c;transform:scaleX(0.9641);">lunes, 3 de agosto de 2026</div>
<div style="position:absolute;left:1217.07px;top:721.67px;font-size:25.8px;line-height:25.8px;font-weight:bold;color:#ffffff;transform:scaleX(0.8420);">SETIEMBRE</div>
<div style="position:absolute;left:189.65px;top:761.50px;font-size:25px;line-height:25px;color:#2a221c;transform:scaleX(0.9595);">VII Nacional de Menores Master y Nuevos Valores U10-U14-U18</div>
<div style="position:absolute;left:1141.22px;top:761.50px;font-size:25px;line-height:25px;color:#2a221c;transform:scaleX(0.8660);">FCT</div>
<div style="position:absolute;left:1533.10px;top:762.70px;font-size:25px;line-height:25px;color:#2a221c;transform:scaleX(0.9756);">Del 05 al 13 de setiembre, 2026</div>
<div style="position:absolute;left:2153.75px;top:761.50px;font-size:25px;line-height:25px;color:#2a221c;transform:scaleX(0.9670);">lunes, 24 de agosto de 2026</div>
<div style="position:absolute;left:438.30px;top:797.80px;font-size:25px;line-height:25px;color:#20172e;transform:scaleX(0.9764);">IV Open Nacional</div>
<div style="position:absolute;left:1141.22px;top:797.80px;font-size:25px;line-height:25px;color:#20172e;transform:scaleX(0.8660);">FCT</div>
<div style="position:absolute;left:1533.10px;top:799.00px;font-size:25px;line-height:25px;color:#20172e;transform:scaleX(0.9756);">Del 12 al 27 de setiembre, 2026</div>
<div style="position:absolute;left:2153.75px;top:797.80px;font-size:25px;line-height:25px;color:#20172e;transform:scaleX(0.9670);">lunes, 31 de agosto de 2026</div>
<div style="position:absolute;left:216.55px;top:834.05px;font-size:25px;line-height:25px;color:#2a221c;transform:scaleX(0.9568);">VII Nacional de Menores Master y Nuevos Valores U12-U16</div>
<div style="position:absolute;left:1141.22px;top:834.05px;font-size:25px;line-height:25px;color:#2a221c;transform:scaleX(0.8660);">FCT</div>
<div style="position:absolute;left:1533.10px;top:835.25px;font-size:25px;line-height:25px;color:#2a221c;transform:scaleX(0.9756);">Del 19 al 27 de setiembre, 2026</div>
<div style="position:absolute;left:2135.49px;top:834.05px;font-size:25px;line-height:25px;color:#2a221c;transform:scaleX(0.9754);">lunes, 7 de septiembre de 2026</div>
<div style="position:absolute;left:214.40px;top:870.40px;font-size:25px;line-height:25px;color:#20172e;transform:scaleX(0.9646);">V Nacional de Adultos sencillos ABC Masculino y Femenino</div>
<div style="position:absolute;left:1141.22px;top:870.40px;font-size:25px;line-height:25px;color:#20172e;transform:scaleX(0.8660);">FCT</div>
<div style="position:absolute;left:1469.56px;top:871.60px;font-size:25px;line-height:25px;color:#20172e;transform:scaleX(0.9720);">Del 19 de setiembre al 04 de octubre , 2026</div>
<div style="position:absolute;left:2135.49px;top:870.40px;font-size:25px;line-height:25px;color:#20172e;transform:scaleX(0.9754);">lunes, 7 de septiembre de 2026</div>
<div style="position:absolute;left:1225.82px;top:904.97px;font-size:25.8px;line-height:25.8px;font-weight:bold;color:#ffffff;transform:scaleX(0.8552);">OCTUBRE</div>
<div style="position:absolute;left:285.52px;top:944.25px;font-size:25px;line-height:25px;color:#2a221c;transform:scaleX(0.9678);">IV Dobles Nacional de Menores U10-U14-U18</div>
<div style="position:absolute;left:1141.22px;top:944.25px;font-size:25px;line-height:25px;color:#2a221c;transform:scaleX(0.8660);">FCT</div>
<div style="position:absolute;left:1545.68px;top:945.45px;font-size:25px;line-height:25px;color:#2a221c;transform:scaleX(0.9828);">Del 03 al 11 de octubre, 2026</div>
<div style="position:absolute;left:2128.54px;top:944.25px;font-size:25px;line-height:25px;color:#2a221c;transform:scaleX(0.9764);">lunes, 21 de septiembre de 2026</div>
<div style="position:absolute;left:303.61px;top:980.25px;font-size:25px;line-height:25px;color:#0e2a32;transform:scaleX(0.9717);">III torneo interescolar de colores Bola Roja</div>
<div style="position:absolute;left:1141.22px;top:980.25px;font-size:25px;line-height:25px;color:#0e2a32;transform:scaleX(0.8660);">FCT</div>
<div style="position:absolute;left:1545.21px;top:981.45px;font-size:25px;line-height:25px;color:#0e2a32;transform:scaleX(0.9722);">sábado, 3 de octubre de 2026</div>
<div style="position:absolute;left:2148.08px;top:980.25px;font-size:25px;line-height:25px;color:#0e2a32;transform:scaleX(0.9771);">lunes, 19 de octubre de 2026</div>
<div style="position:absolute;left:284.95px;top:1016.50px;font-size:25px;line-height:25px;color:#0e2a32;transform:scaleX(0.9760);">III torneo interescolar de colores Bola Naranja</div>
<div style="position:absolute;left:1141.22px;top:1016.50px;font-size:25px;line-height:25px;color:#0e2a32;transform:scaleX(0.8660);">FCT</div>
<div style="position:absolute;left:1537.22px;top:1017.70px;font-size:25px;line-height:25px;color:#0e2a32;transform:scaleX(0.9779);">domingo, 4 de octubre de 2026</div>
<div style="position:absolute;left:2148.08px;top:1016.50px;font-size:25px;line-height:25px;color:#0e2a32;transform:scaleX(0.9771);">lunes, 19 de octubre de 2026</div>
<div style="position:absolute;left:312.18px;top:1052.85px;font-size:25px;line-height:25px;color:#2a221c;transform:scaleX(0.9659);">IV Dobles Nacional de Menores U12-U16</div>
<div style="position:absolute;left:1141.22px;top:1052.85px;font-size:25px;line-height:25px;color:#2a221c;transform:scaleX(0.8660);">FCT</div>
<div style="position:absolute;left:1545.70px;top:1054.05px;font-size:25px;line-height:25px;color:#2a221c;transform:scaleX(0.9772);">Del 17 al 25 de octubre, 2026</div>
<div style="position:absolute;left:2128.54px;top:1052.85px;font-size:25px;line-height:25px;color:#2a221c;transform:scaleX(0.9764);">lunes, 28 de septiembre de 2026</div>
<div style="position:absolute;left:381.14px;top:1089.00px;font-size:25px;line-height:25px;color:#fbfbfb;transform:scaleX(0.9584);">III torneo nacional TSR 2026</div>
<div style="position:absolute;left:1141.22px;top:1089.00px;font-size:25px;line-height:25px;color:#fbfbfb;transform:scaleX(0.8660);">FCT</div>
<div style="position:absolute;left:1572.05px;top:1090.20px;font-size:25px;line-height:25px;color:#fbfbfb;transform:scaleX(0.9692);">17 y 18 de octubre, 2026</div>
<div style="position:absolute;left:2147.93px;top:1089.00px;font-size:25px;line-height:25px;color:#fbfbfb;transform:scaleX(0.9780);">lunes, 12 de octubre de 2026</div>
<div style="position:absolute;left:324.28px;top:1125.40px;font-size:25px;line-height:25px;color:#1c2814;transform:scaleX(0.9657);">IV torneo nacional Tenis de Playa 2026</div>
<div style="position:absolute;left:1141.22px;top:1125.40px;font-size:25px;line-height:25px;color:#1c2814;transform:scaleX(0.8660);">FCT</div>
<div style="position:absolute;left:1495.37px;top:1126.60px;font-size:25px;line-height:25px;color:#1c2814;transform:scaleX(0.9710);">31 de octubre y 01 de noviembre, 2026</div>
<div style="position:absolute;left:2147.93px;top:1125.40px;font-size:25px;line-height:25px;color:#1c2814;transform:scaleX(0.9780);">lunes, 26 de octubre de 2026</div>
<div style="position:absolute;left:1212.35px;top:1160.07px;font-size:25.8px;line-height:25.8px;font-weight:bold;color:#ffffff;transform:scaleX(0.8709);">NOVIEMBRE</div>
<div style="position:absolute;left:210.75px;top:1198.70px;font-size:25px;line-height:25px;color:#20172e;transform:scaleX(0.9655);">VI Nacional de Adultos sencillos ABC Masculino y Femenino</div>
<div style="position:absolute;left:1141.22px;top:1198.70px;font-size:25px;line-height:25px;color:#20172e;transform:scaleX(0.8660);">FCT</div>
<div style="position:absolute;left:1530.10px;top:1199.90px;font-size:25px;line-height:25px;color:#20172e;transform:scaleX(0.9734);">Del 07 al 22 de noviembre, 2026</div>
<div style="position:absolute;left:2147.93px;top:1198.70px;font-size:25px;line-height:25px;color:#20172e;transform:scaleX(0.9780);">lunes, 26 de octubre de 2026</div>
<div style="position:absolute;left:443.75px;top:1235.05px;font-size:25px;line-height:25px;color:#20172e;transform:scaleX(0.9661);">V Open Nacional</div>
<div style="position:absolute;left:1141.22px;top:1235.05px;font-size:25px;line-height:25px;color:#20172e;transform:scaleX(0.8660);">FCT</div>
<div style="position:absolute;left:1530.10px;top:1236.25px;font-size:25px;line-height:25px;color:#20172e;transform:scaleX(0.9734);">Del 14 al 29 de noviembre, 2026</div>
<div style="position:absolute;left:2139.34px;top:1235.05px;font-size:25px;line-height:25px;color:#20172e;transform:scaleX(0.9727);">lunes, 2 de noviembre de 2026</div>
<div style="position:absolute;left:329.00px;top:1271.45px;font-size:25px;line-height:25px;color:#20172e;transform:scaleX(0.9576);">II Dobles Mixtos Nacional ABC y Open</div>
<div style="position:absolute;left:1141.22px;top:1271.45px;font-size:25px;line-height:25px;color:#20172e;transform:scaleX(0.8660);">FCT</div>
<div style="position:absolute;left:1530.10px;top:1272.65px;font-size:25px;line-height:25px;color:#20172e;transform:scaleX(0.9734);">Del 14 al 29 de noviembre, 2026</div>
<div style="position:absolute;left:2139.34px;top:1271.45px;font-size:25px;line-height:25px;color:#20172e;transform:scaleX(0.9727);">lunes, 2 de noviembre de 2026</div>
<div style="position:absolute;left:367.40px;top:1307.60px;font-size:25px;line-height:25px;color:#20172e;transform:scaleX(0.9547);">II Dobles Nacional ABC y Open</div>
<div style="position:absolute;left:1141.22px;top:1307.60px;font-size:25px;line-height:25px;color:#20172e;transform:scaleX(0.8660);">FCT</div>
<div style="position:absolute;left:1530.10px;top:1308.80px;font-size:25px;line-height:25px;color:#20172e;transform:scaleX(0.9734);">Del 14 al 29 de noviembre, 2026</div>
<div style="position:absolute;left:2139.34px;top:1307.60px;font-size:25px;line-height:25px;color:#20172e;transform:scaleX(0.9727);">lunes, 2 de noviembre de 2026</div>
<div style="position:absolute;left:381.59px;top:1343.40px;font-size:25px;line-height:25px;color:#262210;transform:scaleX(0.9285);">COTECC Copa Pura Vida G2</div>
<div style="position:absolute;left:1080.41px;top:1343.40px;font-size:25px;line-height:25px;color:#262210;transform:scaleX(0.9134);">CNT La Sabana</div>
<div style="position:absolute;left:1530.10px;top:1344.60px;font-size:25px;line-height:25px;color:#262210;transform:scaleX(0.9734);">Del 15 al 20 de noviembre, 2026</div>
<div style="position:absolute;left:2247.58px;top:1343.40px;font-size:25px;line-height:25px;color:#262210;transform:scaleX(0.9600);">Fact Sheet</div>
<div style="position:absolute;left:416.01px;top:1379.40px;font-size:25px;line-height:25px;color:#fbfbfb;transform:scaleX(0.9137);">Copa Pura Vida J30 SJ</div>
<div style="position:absolute;left:1080.41px;top:1379.40px;font-size:25px;line-height:25px;color:#fbfbfb;transform:scaleX(0.9134);">CNT La Sabana</div>
<div style="position:absolute;left:1504.00px;top:1380.60px;font-size:25px;line-height:25px;color:#fbfbfb;transform:scaleX(0.9532);">Semana del 23 de noviembre (Q:TBA)</div>
<div style="position:absolute;left:2247.58px;top:1379.40px;font-size:25px;line-height:25px;color:#fbfbfb;transform:scaleX(0.9600);">Fact Sheet</div>
<div style="position:absolute;left:466.58px;top:1415.90px;font-size:25px;line-height:25px;color:#fbfbfb;transform:scaleX(0.8980);">J30 San José</div>
<div style="position:absolute;left:1080.41px;top:1415.90px;font-size:25px;line-height:25px;color:#fbfbfb;transform:scaleX(0.9134);">CNT La Sabana</div>
<div style="position:absolute;left:1504.00px;top:1417.10px;font-size:25px;line-height:25px;color:#fbfbfb;transform:scaleX(0.9532);">Semana del 30 de noviembre (Q:TBA)</div>
<div style="position:absolute;left:2247.58px;top:1415.90px;font-size:25px;line-height:25px;color:#fbfbfb;transform:scaleX(0.9600);">Fact Sheet</div>
<div style="position:absolute;left:1216.53px;top:1451.07px;font-size:25.8px;line-height:25.8px;font-weight:bold;color:#ffffff;transform:scaleX(0.8821);">DICIEMBRE</div>
<div style="position:absolute;left:108.27px;top:1489.50px;font-size:25px;line-height:25px;color:#2a221c;transform:scaleX(0.9703);">III Edición Torneo Nacional Recreativo Mixtos Menores U10-U12-U14-U16-U18</div>
<div style="position:absolute;left:1141.22px;top:1489.50px;font-size:25px;line-height:25px;color:#2a221c;transform:scaleX(0.8660);">FCT</div>
<div style="position:absolute;left:1559.72px;top:1490.70px;font-size:25px;line-height:25px;color:#2a221c;transform:scaleX(0.9739);">05 y 06 de diciembre, 2026</div>
<div style="position:absolute;left:2132.34px;top:1489.50px;font-size:25px;line-height:25px;color:#2a221c;transform:scaleX(0.9741);">lunes, 23 de noviembre de 2026</div>
<div style="position:absolute;left:380.20px;top:1526.25px;font-size:25px;line-height:25px;color:#fbfbfb;transform:scaleX(0.9560);">IV torneo nacional TSR 2026</div>
<div style="position:absolute;left:1141.22px;top:1526.25px;font-size:25px;line-height:25px;color:#fbfbfb;transform:scaleX(0.8660);">FCT</div>
<div style="position:absolute;left:1556.76px;top:1527.45px;font-size:25px;line-height:25px;color:#fbfbfb;transform:scaleX(0.9680);">19  y 20 de diciembre, 2026</div>
<div style="position:absolute;left:2135.38px;top:1526.25px;font-size:25px;line-height:25px;color:#fbfbfb;transform:scaleX(0.9799);">lunes, 14 de diciembre de 2026</div>
<div style="position:absolute;left:57.60px;top:1563.05px;font-size:25px;line-height:25px;font-weight:bold;color:#262626;transform:scaleX(0.9316);">Notas Importantes: La Federación Costarricense de Tenis, COTECC, ITF, CONTECA o ICODER puede variar las fechas. Nuevo formato reglamento publicado página y redes sociales, estos pueden ser actualizados por la</div>
<div style="position:absolute;left:57.59px;top:1598.95px;font-size:25px;line-height:25px;font-weight:bold;color:#262626;transform:scaleX(0.9423);">Ningun participante en los torneos nacionales puede alegar desconocimiento del reglamento de competicion, protocolos y demás reglamentación vigente.</div>
<div style="position:absolute;left:1072.08px;top:66.79px;font-size:24.6px;line-height:24.6px;font-weight:bold;color:#2b3557;transform:scaleX(0.9319);">CALENDARIO DE COMPETICIÓN 2026</div>
<div style="position:absolute;left:923.78px;top:102.11px;font-size:25.4px;line-height:25.4px;font-weight:bold;color:#2b3557;transform:scaleX(0.8755);">TORNEOS NACIONALES E INTERNACIONALES SEDE COSTA RICA</div>
<div style="position:absolute;left:460.56px;top:138.78px;font-size:23.2px;line-height:23.2px;font-weight:bold;color:#2b3557;transform:scaleX(0.9657);">Menores Nacionales</div>
<div style="position:absolute;left:776.48px;top:138.78px;font-size:23.2px;line-height:23.2px;font-weight:bold;color:#2b3557;transform:scaleX(0.9618);">Torneos selección</div>
<div style="position:absolute;left:1068.63px;top:138.78px;font-size:23.2px;line-height:23.2px;font-weight:bold;color:#2b3557;transform:scaleX(0.9832);">Interescolares</div>
<div style="position:absolute;left:1360.00px;top:138.78px;font-size:23.2px;line-height:23.2px;font-weight:bold;color:#2b3557;transform:scaleX(0.8626);">WJTT SEDE CRC</div>
<div style="position:absolute;left:1640.59px;top:138.78px;font-size:23.2px;line-height:23.2px;font-weight:bold;color:#2b3557;transform:scaleX(0.9429);">Beach Tennis</div>
<div style="position:absolute;left:1993.31px;top:138.78px;font-size:23.2px;line-height:23.2px;font-weight:bold;color:#2b3557;transform:scaleX(0.8347);">TSR</div>
<div style="position:absolute;left:470.25px;top:203.98px;font-size:23.2px;line-height:23.2px;font-weight:bold;color:#2b3557;transform:scaleX(0.9613);">Adultos Nacionales</div>
<div style="position:absolute;left:841.79px;top:203.98px;font-size:23.2px;line-height:23.2px;font-weight:bold;color:#2b3557;transform:scaleX(0.8999);">JDN ICODER</div>
<div style="position:absolute;left:1118.56px;top:203.98px;font-size:23.2px;line-height:23.2px;font-weight:bold;color:#2b3557;transform:scaleX(0.9102);">CONTECA</div>
<div style="position:absolute;left:1322.77px;top:203.98px;font-size:23.2px;line-height:23.2px;font-weight:bold;color:#2b3557;transform:scaleX(0.8948);">COTECC SEDE CRC</div>
<div style="position:absolute;left:1622.78px;top:203.98px;font-size:23.2px;line-height:23.2px;font-weight:bold;color:#2b3557;transform:scaleX(0.9369);">Torneos Senior</div>
<div style="position:absolute;left:1886.15px;top:203.98px;font-size:23.2px;line-height:23.2px;font-weight:bold;color:#2b3557;transform:scaleX(0.8951);">ITF Men&#x27;s WTT</div>
<div style="position:absolute;left:67.84px;top:193.43px;font-size:39.5px;line-height:39.5px;color:#3565ab;transform:scaleX(0.4937);-webkit-text-stroke:0.9px #3565ab;">Federación Costarricense de Tenis</div>
</body></html>
